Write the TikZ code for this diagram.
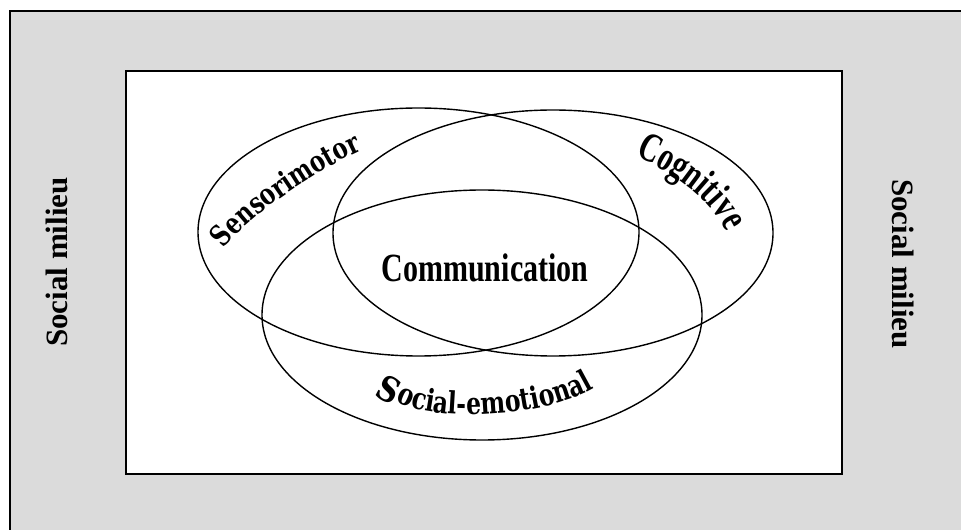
\documentclass[tikz,border=0pt]{standalone}
\usepackage{fontspec}
\setmainfont{Liberation Serif}
\newfontfamily\wideserif{DejaVu Serif}
\usetikzlibrary{decorations.text}
\definecolor{milieugray}{RGB}{219,219,219}
\tikzset{
  domainring/.style={draw=black, line width=1.4pt},
  frameline/.style={draw=black, line width=2pt},
  sidelabel/.style={font=\bfseries\fontsize{31}{31}\selectfont, inner sep=0pt},
  arclabel/.style n args={3}{decorate, decoration={text effects along path, text={#1},
    text effects/.cd, text along path, scale text to path,
    every character/.style={font=#2\bfseries\fontsize{24}{24}\selectfont, yscale=#3, transform shape}}}
}
\begin{document}
\begin{tikzpicture}[x=1pt, y=1pt]
  \useasboundingbox (0,0) rectangle (961,530);
  \clip (0,0) rectangle (961,530);

  % social milieu surround
  \fill[milieugray] (9.5,519) rectangle (975,-15);
  \draw[frameline] (9.5,-15) -- (9.5,519) -- (975,519);

  % developmental field
  \draw[frameline, fill=white] (126,459) rectangle (841.5,56);

  % the three overlapping domains
  \draw[domainring] (418.5,298) ellipse [x radius=220.5, y radius=124];
  \draw[domainring] (553,297) ellipse [x radius=220, y radius=123];
  \draw[domainring] (482,215) ellipse [x radius=220, y radius=125];

  % labels
  \node[inner sep=0pt] (comm) at (485,262)
    {\scalebox{0.75}[1]{\bfseries\fontsize{40}{40}\selectfont Communication}};
  \node[sidelabel, rotate=90] (milieuL) at (57,268) {Social milieu};
  \node[sidelabel, rotate=-90] (milieuR) at (903,266) {Social milieu};

  \path[arclabel={Sensorimotor}{\wideserif}{1.3}]
    (224,281) .. controls (249,316) and (324,363) .. (362,380);
  \path[arclabel={Cognitive}{}{1.4}]
    (635,374) .. controls (671,358) and (710,334) .. (726,298);
  \node[inner sep=0pt, rotate=-28, yscale=1.15, font=\wideserif\bfseries\fontsize{30}{30}\selectfont] (bigS) at (389,141) {S};
  \path[arclabel={ocial-emotional}{\wideserif}{1.3}]
    (396,129) .. controls (428,108) and (540,110) .. (594,142);
\end{tikzpicture}
\end{document}
